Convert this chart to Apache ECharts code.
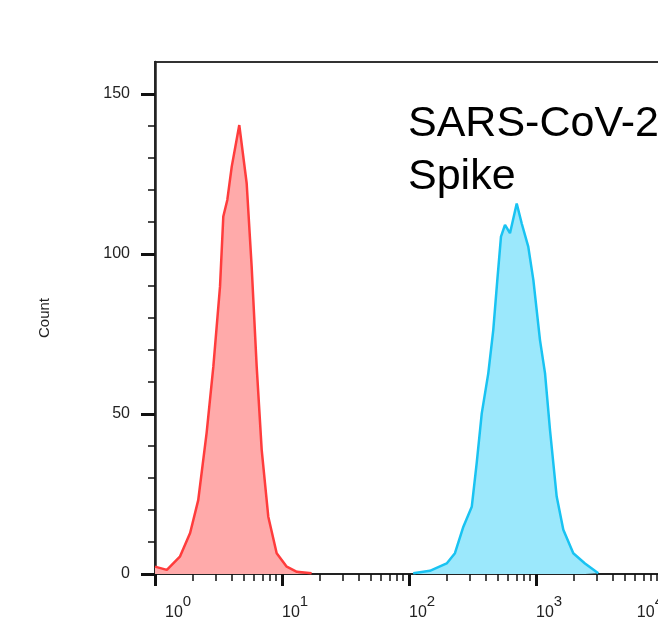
<!DOCTYPE html>
<html>
<head>
<meta charset="utf-8">
<script src="https://cdn.jsdelivr.net/npm/echarts@6/dist/echarts.min.js"></script>
<style>
  html, body { margin: 0; padding: 0; background: #fff; overflow: hidden; }
  /* the plot runs past the right edge of the picture, as in the original figure */
  #chart { width: 790px; height: 637px; }
</style>
</head>
<body>
<div id="chart"></div>
<script>
// histogram of two stained populations, fluorescence on log scale

// unstained / control (red)
const redX = [1.00, 1.24, 1.57, 1.89, 2.19, 2.55, 2.88, 3.25, 3.45, 3.71, 4.02, 4.61, 5.27, 5.77, 6.32, 6.92, 7.80, 9.08, 10.9, 13.1, 17.1];
const redY = [2.3, 1.3, 5.4, 12.8, 23.1, 44.1, 64.8, 89.8, 111.7, 116.9, 127.3, 140.3, 122.1, 96.0, 64.8, 38.8, 17.9, 6.5, 2.3, 0.7, 0.2];

// SARS-CoV-2 spike stained (blue)
const blueX = [108, 146, 198, 230, 268, 312, 341, 374, 421, 461, 496, 530, 570, 624, 705, 771, 869, 953, 1075, 1178, 1289, 1455, 1641, 1966, 2431, 3094];
const blueY = [0.2, 1.0, 3.3, 6.5, 14.8, 21.0, 34.6, 50.2, 62.7, 76.3, 91.9, 105.4, 109.1, 106.5, 115.8, 109.6, 102.3, 91.9, 73.1, 62.7, 45.0, 24.2, 13.8, 6.5, 3.3, 0.2];

// axis ticks
const decades = [1, 10, 100, 1000, 10000, 100000];
const minorMult = [2, 3, 4, 5, 6, 7, 8, 9];
const xLabelsLeft = [0, 1, 2, 3];   // exponents, label starts at tick
const xLabelsRight = [4];           // last one sits left of its tick
const yMajor = [0, 50, 100, 150];
const yMinor = [10, 20, 30, 40, 60, 70, 80, 90, 110, 120, 130, 140];

const FONT = 'Liberation Sans, Arial, sans-serif';

function toLog(xs, ys) {
  return xs.map((x, i) => [Math.log10(x), ys[i]]);
}

let minorX = [];
decades.slice(0, -1).forEach(d => minorMult.forEach(m => minorX.push(Math.log10(d * m))));

const powRich = {
  p: { width: 10 },
  b: { fontSize: 16, lineHeight: 16, verticalAlign: 'bottom', fontFamily: FONT, color: '#222' },
  e: { fontSize: 15, lineHeight: 27, verticalAlign: 'top', fontFamily: FONT, color: '#222' }
};

const chart = echarts.init(document.getElementById('chart'), null, { renderer: 'canvas' });

const option = {
  animation: false,
  backgroundColor: '#fff',
  grid: {
    left: 155,
    right: 0,
    top: 62,
    bottom: 63,
    outerBoundsMode: 'none',
    containLabel: false,
    show: true,
    borderColor: '#333',
    borderWidth: 2,
    backgroundColor: 'transparent'
  },
  xAxis: [{
    type: 'value',
    position: 'bottom',
    min: 0,
    max: 5,
    interval: 1,
    splitLine: { show: false },
    axisLine: { lineStyle: { color: '#222', width: 2 } },
    axisTick: { length: 12, lineStyle: { color: '#111', width: 3 } },
    axisLabel: {
      customValues: xLabelsLeft,
      align: 'left',
      margin: 20,
      color: '#222',
      fontFamily: FONT,
      formatter: v => (v === 0 ? '{p|}' : '') + '{b|10}{e|' + v + '}',
      rich: powRich
    }
  }, {
    type: 'value',
    position: 'bottom',
    min: 0,
    max: 5,
    splitLine: { show: false },
    axisLine: { show: false },
    axisTick: { customValues: minorX, length: 7, lineStyle: { color: '#111', width: 1.5 } },
    axisLabel: {
      customValues: xLabelsRight,
      align: 'right',
      margin: 20,
      color: '#222',
      fontFamily: FONT,
      formatter: v => '{b|10}{e|' + v + '}',
      rich: powRich
    }
  }],
  yAxis: [{
    type: 'value',
    position: 'left',
    min: 0,
    max: 160,
    name: 'Count',
    nameLocation: 'middle',
    nameGap: 103,
    nameRotate: 90,
    nameTextStyle: { fontSize: 15, color: '#222', fontFamily: FONT },
    splitLine: { show: false },
    axisLine: { show: true, lineStyle: { color: '#222', width: 2.5 } },
    axisTick: { customValues: yMajor, length: 14, lineStyle: { color: '#111', width: 3 } },
    axisLabel: { customValues: yMajor, margin: 25, fontSize: 16, color: '#222', fontFamily: FONT }
  }, {
    type: 'value',
    position: 'left',
    min: 0,
    max: 160,
    splitLine: { show: false },
    axisLine: { show: false },
    axisLabel: { show: false },
    axisTick: { customValues: yMinor, length: 7, lineStyle: { color: '#111', width: 1.5 } }
  }],
  graphic: [{
    type: 'text',
    left: 408,
    top: 98,
    style: {
      text: 'SARS-CoV-2\nSpike',
      fontSize: 43,
      fontFamily: FONT,
      lineHeight: 53,
      fill: '#000'
    }
  }],
  series: [{
    name: 'Control',
    type: 'line',
    data: toLog(redX, redY),
    showSymbol: false,
    lineStyle: { color: '#ff3c3c', width: 2.5 },
    areaStyle: { color: '#ffaaaa', opacity: 1 },
    z: 2
  }, {
    name: 'SARS-CoV-2 Spike',
    type: 'line',
    data: toLog(blueX, blueY),
    showSymbol: false,
    lineStyle: { color: '#19c3f2', width: 2.5 },
    areaStyle: { color: '#9be8fc', opacity: 1 },
    z: 2
  }]
};

chart.setOption(option);
</script>
</body>
</html>
